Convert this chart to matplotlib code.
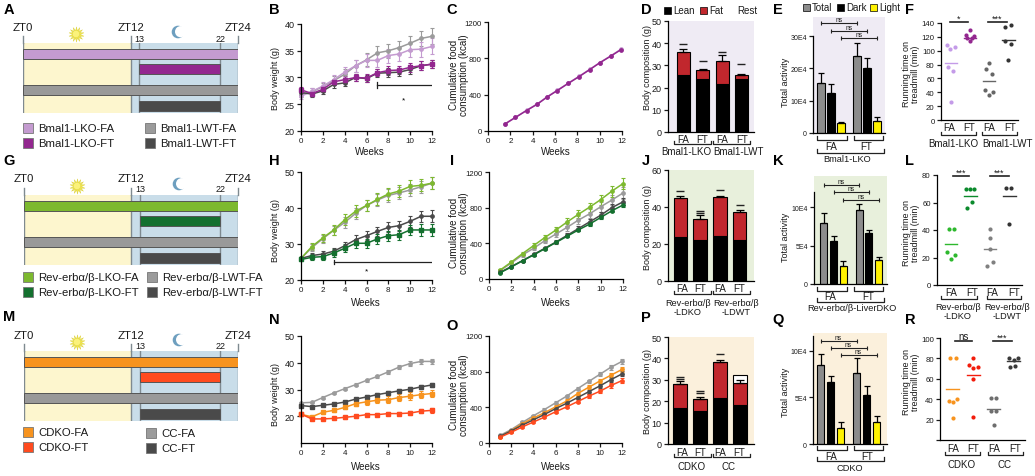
"""Three-row figure: feeding schedules, body weight, food intake, composition, activity, treadmill."""
import numpy as np
import matplotlib
matplotlib.use('Agg')
import matplotlib.pyplot as plt
from matplotlib.patches import Circle, Rectangle

plt.rcParams['font.family'] = ['Liberation Sans', 'DejaVu Sans']
plt.rcParams['axes.linewidth'] = 0.9
plt.rcParams['xtick.major.width'] = 0.9
plt.rcParams['ytick.major.width'] = 0.9

W, H = 1035, 477

# feeding schedule, ZT hours
feed_start = [0, 13, 0, 13]
feed_end = [24, 22, 24, 22]

# body weight, weeks 0-12
weeks = list(range(13))
b_lko_fa = [26.5, 27.4, 28.4, 29.6, 31.0, 32.2, 33.2, 33.2, 34.1, 34.4, 35.2, 35.3, 35.8]
b_lwt_fa = [26.9, 27.3, 28.3, 29.4, 30.6, 32.2, 33.3, 34.6, 35.0, 35.6, 36.4, 37.3, 37.7]
b_lko_ft = [27.7, 27.0, 27.8, 29.2, 29.6, 30.0, 29.9, 30.9, 31.3, 31.4, 31.9, 32.2, 32.5]
b_lwt_ft = [27.2, 26.9, 27.5, 28.7, 29.0, 30.0, 29.8, 30.8, 30.9, 31.0, 31.5, 32.2, 32.5]
b_err_fa = [0.6, 0.7, 0.7, 0.8, 1.0, 1.1, 1.2, 1.3, 1.3, 1.3, 1.4, 1.4, 1.5]
b_err_ft = [0.5, 0.5, 0.5, 0.6, 0.6, 0.6, 0.7, 0.7, 0.8, 0.8, 0.8, 0.8, 0.8]

h_lko_fa = [26.0, 29.3, 31.7, 33.9, 36.7, 39.1, 40.7, 42.4, 43.9, 44.7, 46.0, 46.3, 46.9]
h_lwt_fa = [26.0, 29.0, 31.5, 33.8, 36.0, 38.5, 40.7, 42.2, 43.5, 44.2, 45.0, 45.9, 46.9]
h_lwt_ft = [26.0, 26.8, 27.2, 28.0, 29.5, 31.2, 32.3, 33.5, 34.6, 35.1, 36.3, 37.7, 37.7]
h_lko_ft = [25.7, 26.3, 26.5, 27.5, 28.8, 30.2, 30.2, 31.4, 32.3, 32.6, 33.9, 33.9, 33.9]
h_err_fa = [0.5, 1.0, 1.1, 1.3, 1.5, 1.6, 1.6, 1.7, 1.7, 1.7, 1.7, 1.7, 1.6]
h_err_ft = [0.5, 0.8, 0.9, 1.0, 1.1, 1.2, 1.3, 1.3, 1.4, 1.4, 1.5, 1.6, 1.7]

n_cc_fa = [25.0, 25.2, 27.0, 28.7, 30.3, 31.8, 33.4, 34.9, 36.6, 38.4, 39.7, 40.5, 40.5]
n_cc_ft = [24.0, 23.6, 24.1, 24.6, 25.3, 26.4, 27.2, 28.1, 28.8, 29.5, 30.1, 31.0, 31.7]
n_ko_fa = [20.7, 19.8, 21.5, 22.2, 23.3, 24.7, 25.4, 26.0, 26.2, 27.0, 27.5, 28.1, 28.5]
n_ko_ft = [20.8, 19.0, 19.0, 19.2, 19.6, 20.0, 20.6, 20.6, 21.0, 21.0, 21.2, 21.9, 22.2]
n_err_gray = [0.3, 0.3, 0.4, 0.4, 0.5, 0.5, 0.6, 0.6, 0.7, 0.7, 0.8, 0.8, 0.9]
n_err_color = [0.4, 0.4, 0.5, 0.6, 0.7, 0.9, 1.1, 1.2, 1.3, 1.3, 1.4, 1.4, 1.4]

# cumulative food
c_weeks = [1.56, 2.46, 3.45, 4.41, 5.31, 6.2, 7.2, 8.17, 9.1, 10.0, 11.0, 11.9]
c_lko_fa = [82, 150, 228, 298, 378, 448, 528, 603, 678, 752, 828, 900]
c_lko_ft = [80, 150, 225, 295, 375, 445, 525, 600, 675, 750, 825, 895]
i_weeks = list(range(1, 13))
i_lko_fa = [100, 190, 285, 375, 465, 550, 640, 725, 805, 890, 985, 1070]
i_lwt_fa = [95, 180, 270, 345, 430, 505, 580, 660, 730, 810, 885, 965]
i_lwt_ft = [75, 140, 205, 275, 345, 415, 490, 565, 640, 715, 800, 865]
i_lko_ft = [70, 135, 205, 270, 340, 410, 480, 550, 615, 690, 765, 830]
i_err = [10, 15, 20, 25, 30, 35, 40, 45, 50, 55, 60, 65]
i_err_wt = [6, 9, 12, 15, 18, 21, 24, 27, 30, 33, 36, 39]
i_err_ko = [3, 5, 6, 8, 9, 11, 12, 14, 15, 17, 18, 20]
o_cc_fa = [85, 150, 230, 305, 375, 450, 525, 610, 690, 770, 850, 915]
o_ko_fa = [70, 140, 215, 280, 340, 405, 470, 555, 625, 695, 760, 825]
o_cc_ft = [75, 135, 200, 260, 320, 385, 445, 510, 575, 640, 710, 775]
o_ko_ft = [65, 120, 180, 235, 290, 350, 405, 465, 525, 580, 645, 700]
o_err = [8, 10, 12, 14, 15, 16, 18, 20, 22, 24, 26, 28]

# body composition: lean, fat, rest stacked, upper error end, dash marks
d_lean = [25.5, 24.0, 21.5, 23.8]
d_fat = [10.5, 4.0, 10.5, 2.0]
d_err = [1.5, 0.5, 2.6, 0.4]
d_marks = [[39.6], [32.0], [36.0], [30.6]]
j_lean = [24.0, 21.9, 24.2, 22.4]
j_fat = [20.7, 11.7, 21.0, 14.8]
j_err = [1.1, 2.3, 0.8, 1.2]
j_marks = [[48.8], [37.0, 38.0], [49.0], [41.3]]
p_lean = [16.8, 15.5, 21.7, 18.3]
p_fat = [11.2, 5.5, 16.7, 10.4]
p_rest = [0, 0, 0, 3.6]
p_err = [1.5, 1.0, 1.0, 1.1]
p_marks = [[30.6, 31.4], [24.0, 24.6], [42.0], []]

# total activity, groups FA then FT, each Total, Dark, Light
e_vals = [15.5, 12.5, 3.0, 23.8, 20.0, 3.8]
e_errs = [3.0, 2.7, 0.4, 4.2, 3.2, 1.0]
k_vals = [7.9, 5.65, 2.3, 9.7, 6.65, 3.1]
k_errs = [1.4, 0.65, 0.7, 0.8, 0.35, 0.45]
q_vals = [8.5, 6.7, 1.7, 7.6, 5.2, 2.4]
q_errs = [1.1, 0.6, 0.7, 1.6, 1.0, 0.6]

# treadmill running time, per group: values, sideways offsets of dots, mean
f_vals = [[108.7, 102, 105, 76, 71, 26],
          [130, 122, 121, 118, 118, 114],
          [82, 74, 67, 43, 40, 36],
          [134, 137, 114, 110, 86]]
f_jitter = [[-0.2, -0.03, 0.2, -0.15, 0.13, 0.0],
            [0.0, -0.22, 0.2, -0.17, 0.09, 0.0],
            [0.0, -0.17, 0.12, -0.22, 0.2, 0.0],
            [-0.17, 0.15, -0.17, 0.15, 0.0]]
f_means = [82, 118, 57, 116]
l_vals = [[41, 41, 24, 22, 19],
          [70, 70, 70, 60.6, 56],
          [41, 34, 26, 17, 14],
          [70.5, 70.5, 44.7]]
l_jitter = [[-0.12, 0.14, -0.2, 0.19, 0.0],
            [-0.24, -0.03, 0.19, 0.1, -0.17],
            [0.0, 0.0, 0.0, 0.14, -0.14],
            [-0.15, 0.1, 0.0]]
l_means = [30, 65, 26.5, 65]
r_vals = [[80, 80, 38.6, 37.6, 40, 22],
          [80, 74, 71, 72, 60, 23],
          [41, 41.5, 28, 28, 15],
          [80, 80, 78, 72, 73]]
r_jitter = [[-0.13, 0.15, -0.2, -0.02, 0.2, 0.0],
            [0.0, -0.21, 0.0, 0.21, 0.0, 0.0],
            [-0.13, 0.13, -0.15, 0.13, 0.0],
            [-0.23, 0.2, 0.0, -0.2, 0.05]]
r_means = [49.7, 63.4, 30.7, 77]

GRAY, DARK = '#9B9B9B', '#4A4A4A'
LPURPLE, PURPLE = '#C49BD0', '#93278F'
LGREEN, GREEN = '#7DB92F', '#14702F'
ORANGE, REDOR = '#F7931E', '#FF4B1F'
FAT = '#C1272D'
YELLOW = '#FFF200'
TEXT = '#1A1A1A'

fig = plt.figure(figsize=(W / 100, H / 100), dpi=100)


def axes_px(left, top, right, bottom):
    return fig.add_axes([left / W, 1 - bottom / H, (right - left) / W, (bottom - top) / H])


# overlay in pixel coordinates for labels and brackets
ov = fig.add_axes([0, 0, 1, 1], zorder=10)
ov.set_xlim(0, W)
ov.set_ylim(H, 0)
ov.axis('off')


def put(x, y, s, size=7, **kw):
    kw.setdefault('ha', 'center')
    kw.setdefault('va', 'center')
    kw.setdefault('color', TEXT)
    ov.text(x, y, s, fontsize=size, **kw)


def bracket(x0, x1, y, tick=4):
    ov.plot([x0, x0, x1, x1], [y - tick, y, y, y - tick], color='#222222', lw=0.9)


def schedule(left, right, top, labels_y, col_fa, col_ft, legend):
    ax = axes_px(left, top, right, top + 70)
    ax.set_xlim(0, 24)
    ax.set_ylim(70, 0)
    ax.axis('off')
    ax.axvspan(0, 12, color='#FDF6CE', lw=0)
    ax.axvspan(12, 24, color='#C9DDE9', lw=0)
    for hour in (0, 12, 13, 22, 24):
        ax.axvline(hour, color='#7F8A90', lw=1.0, zorder=1)
    tracks = [(11, col_fa), (26, col_ft), (47, '#999999'), (62.5, DARK)]
    for (yc, col), a, b in zip(tracks, feed_start, feed_end):
        ax.barh(yc, b - a, left=a, height=10, color=col, edgecolor='#555555', lw=0.7, zorder=3)
    per_hour = (right - left) / 24
    for hour, s in ((0, 'ZT0'), (12, 'ZT12'), (24, 'ZT24')):
        put(left + hour * per_hour, labels_y, s, size=8.2)
    for hour, s in ((13, '13'), (22, '22')):
        put(left + hour * per_hour, labels_y + 11, s, size=6.5)
    # stubs of ZT0 / ZT12 / ZT24 reach above the shaded area
    for hour in (0, 12, 24):
        x = left + hour * per_hour
        ov.plot([x, x], [top - 7, top], color='#7F8A90', lw=1.0)
    # sun and moon
    sx, sy = left + 53, top - 9
    ov.plot([sx], [sy], marker=(14, 1, 0), ms=11, color='#F2E64D', mec='#D9CF3A', mew=0.3)
    ov.add_patch(Circle((sx, sy), 3.6, fc='#FBF27A', ec='#E3D94A', lw=0.4, zorder=4))
    mx, my = left + 155, top - 11
    ov.add_patch(Circle((mx, my), 6.3, fc='#6E9FBF', ec='none', zorder=4))
    ov.add_patch(Circle((mx + 2.6, my - 0.3), 5.6, fc='white', ec='none', zorder=5))
    # legend squares and names
    for (x, y, col, s) in legend:
        ov.add_patch(Rectangle((x, y - 5), 10, 10, fc=col, ec='#777777', lw=0.6, zorder=4))
        put(x + 15, y, s, size=8.2, ha='left')


schedule(23, 238, 44, 28, LPURPLE, PURPLE,
         [(23, 129, LPURPLE, 'Bmal1-LKO-FA'), (23, 144, PURPLE, 'Bmal1-LKO-FT'),
          (145, 129, GRAY, 'Bmal1-LWT-FA'), (145, 144, DARK, 'Bmal1-LWT-FT')])
schedule(24, 238, 196, 179, LGREEN, GREEN,
         [(23, 278, LGREEN, 'Rev-erbα/β-LKO-FA'), (23, 293, GREEN, 'Rev-erbα/β-LKO-FT'),
          (147, 278, GRAY, 'Rev-erbα/β-LWT-FA'), (147, 293, DARK, 'Rev-erbα/β-LWT-FT')])
schedule(24, 238, 352, 336, ORANGE, REDOR,
         [(23, 433, ORANGE, 'CDKO-FA'), (23, 448, REDOR, 'CDKO-FT'),
          (146, 434, GRAY, 'CC-FA'), (146, 449, DARK, 'CC-FT')])


def style(ax, ysize, xsize=5.8):
    ax.spines['top'].set_visible(False)
    ax.spines['right'].set_visible(False)
    ax.tick_params(length=3, pad=1.5, colors=TEXT)
    ax.tick_params(axis='y', labelsize=ysize)
    ax.tick_params(axis='x', labelsize=xsize)
    ax.patch.set_alpha(0)


def line_axes(rect, ylim, yticks, series, ysize=6.5):
    ax = axes_px(*rect)
    ax.set_xlim(0, 12)
    ax.set_ylim(*ylim)
    ax.set_xticks(range(0, 13, 2))
    ax.set_yticks(yticks)
    style(ax, ysize)
    for x, y, err, col, marker in series:
        ax.errorbar(x, y, yerr=err, color=col, lw=1.1, marker=marker, ms=2.4, capsize=1.6,
                    elinewidth=0.8, capthick=0.8, clip_on=False)
    return ax


ax = line_axes((301, 25, 432, 132), (20, 40), [20, 25, 30, 35, 40],
               [(weeks, b_lwt_fa, b_err_fa, GRAY, 'o'), (weeks, b_lko_fa, b_err_fa, LPURPLE, 'o'),
                (weeks, b_lwt_ft, b_err_ft, DARK, 'o'), (weeks, b_lko_ft, b_err_ft, PURPLE, 's')])
ax.plot([7, 12], [28.6, 28.6], color='#222222', lw=0.9)
ax.plot([7, 7], [28.1, 29.1], color='#222222', lw=0.9)
ax.text(9.4, 25.9, '*', fontsize=6, ha='center', va='center')

ax = line_axes((488, 23, 622, 132), (0, 1200), [0, 400, 800, 1200],
               [(c_weeks, c_lko_fa, None, LPURPLE, 'o'), (c_weeks, c_lko_ft, None, PURPLE, 'o')], 5.6)

ax = line_axes((301, 173, 432, 281), (20, 50), [20, 30, 40, 50],
               [(weeks, h_lwt_fa, h_err_fa, GRAY, 'o'), (weeks, h_lko_fa, h_err_fa, LGREEN, 'o'),
                (weeks, h_lwt_ft, h_err_ft, DARK, 'o'), (weeks, h_lko_ft, h_err_ft, GREEN, 's')])
ax.plot([3, 12], [25, 25], color='#222222', lw=0.9)
ax.plot([3, 3], [24.4, 25.6], color='#222222', lw=0.9)
ax.text(6, 22.6, '*', fontsize=6, ha='center', va='center')

line_axes((489, 173, 623, 280), (0, 1200), [0, 400, 800, 1200],
          [(i_weeks, i_lwt_fa, i_err, GRAY, 'o'), (i_weeks, i_lko_fa, i_err, LGREEN, 'o'),
           (i_weeks, i_lwt_ft, i_err_wt, DARK, 'o'), (i_weeks, i_lko_ft, i_err_ko, GREEN, 'o')], 5.6)

line_axes((301, 337, 432, 444), (10, 50), [20, 30, 40, 50],
          [(weeks, n_cc_fa, n_err_gray, GRAY, 'o'), (weeks, n_cc_ft, n_err_gray, DARK, 's'),
           (weeks, n_ko_fa, n_err_color, ORANGE, 's'), (weeks, n_ko_ft, n_err_gray, REDOR, 's')])

line_axes((489, 337, 622, 444), (0, 1200), [0, 400, 800, 1200],
          [(i_weeks, o_cc_fa, o_err, GRAY, 'o'), (i_weeks, o_ko_fa, o_err, ORANGE, 'o'),
           (i_weeks, o_cc_ft, o_err, DARK, 'o'), (i_weeks, o_ko_ft, o_err, REDOR, 'o')], 5.6)


def composition(rect, xlim, ymax, yticks, bg, lean, fat, err, marks, rest=None, width=0.68):
    ax = axes_px(*rect)
    ax.set_xlim(*xlim)
    ax.set_ylim(0, ymax)
    ax.set_facecolor(bg)
    ax.set_xticks([])
    ax.set_yticks(yticks)
    style(ax, 6.5)
    ax.patch.set_alpha(1)
    x = np.arange(len(lean))
    lean = np.array(lean)
    fat = np.array(fat)
    ax.bar(x, lean, width, color='black', edgecolor='black', lw=0.8)
    ax.bar(x, fat, width, bottom=lean, color=FAT, edgecolor='black', lw=0.8)
    tops = lean + fat
    if rest is not None:
        ax.bar(x, rest, width, bottom=tops, color='white', edgecolor='black', lw=0.8)
    ax.errorbar(x, tops, yerr=[np.zeros(len(x)), err], fmt='none', ecolor='black', elinewidth=0.9,
                capsize=2.6, capthick=0.9)
    for i, ys in enumerate(marks):
        ax.plot([i] * len(ys), ys, ls='none', marker='_', ms=6, mew=1.0, color='#222222')


composition((668, 22, 754, 133), (-0.80, 3.65), 50, [0, 10, 20, 30, 40, 50], '#EFEBF4',
            d_lean, d_fat, d_err, d_marks)
composition((668, 171, 754, 282), (-0.63, 3.73), 60, [0, 20, 40, 60], '#E8F0DC',
            j_lean, j_fat, j_err, j_marks)
composition((668, 338, 754, 445), (-0.60, 3.70), 50, [0, 10, 20, 30, 40, 50], '#FBF0DC',
            p_lean, p_fat, p_err, p_marks, rest=p_rest)


def activity(rect, xlim, ymax, spine_top, yticks, ylabels, bg, vals, errs, bracket_y):
    ax = axes_px(*rect)
    ax.set_xlim(*xlim)
    ax.set_ylim(0, ymax)
    ax.set_facecolor(bg)
    ax.set_xticks([])
    ax.set_yticks(yticks)
    ax.set_yticklabels(ylabels)
    style(ax, 5)
    ax.patch.set_alpha(1)
    ax.spines['left'].set_bounds(0, spine_top)
    x = np.array([0, 1, 2, 3.6, 4.6, 5.6])
    cols = ['#8C8C8C', 'black', YELLOW] * 2
    ax.bar(x, vals, 0.72, color=cols, edgecolor='black', lw=0.8)
    ax.errorbar(x, vals, yerr=[np.zeros(6), errs], fmt='none', ecolor='black', elinewidth=0.9,
                capsize=2.0, capthick=0.9)
    for (a, b), y in zip(((0, 3), (1, 4), (2, 5)), bracket_y):
        ax.plot([x[a], x[b]], [y, y], color='#222222', lw=0.8, marker='|', ms=3.5, mew=0.8)
        ax.text((x[a] + x[b]) / 2, y, 'ns', fontsize=4.8, ha='center', va='bottom', color=TEXT)


activity((813, 18, 885, 134), (-0.8, 6.4), 35.9, 30, [0, 10, 20, 30], ['0', '10E4', '20E4', '30E4'],
         '#EFEBF4', e_vals, e_errs, (34, 31.5, 29.4))
activity((814, 177, 887, 285), (-1.0, 6.45), 14.1, 12, [0, 5, 10], ['0', '5E4', '10E4'],
         '#E8F0DC', k_vals, k_errs, (12.9, 12, 11))
activity((813, 334, 887, 445), (-0.75, 6.65), 11.9, 11.6, [0, 5, 10], ['0', '5E4', '10E4'],
         '#FBF0DC', q_vals, q_errs, (11, 10.25, 9.5))


def running(rect, xlim, ymax, yticks, ylabels, vals, jitter, means, cols):
    ax = axes_px(*rect)
    ax.set_xlim(*xlim)
    ax.set_ylim(0, ymax)
    ax.set_xticks([])
    ax.set_yticks(yticks)
    ax.set_yticklabels(ylabels)
    style(ax, 5.6)
    for i in range(4):
        ax.scatter(np.array(jitter[i]) + i, vals[i], s=9, color=cols[i], lw=0, clip_on=False, zorder=3)
        ax.plot([i - 0.32, i + 0.32], [means[i], means[i]], color=cols[i], lw=1.0, zorder=2)
    return ax


running((941, 24, 1018, 121), (-0.52, 3.5), 140, range(0, 141, 20), [str(v) for v in range(0, 141, 20)],
        f_vals, f_jitter, f_means, ['#C49BE8', PURPLE, '#666666', '#333333'])
running((937, 176, 1022, 286), (-0.72, 3.65), 80, [0, 20, 40, 60, 80], ['0', '20', '40', '60', '80'],
        l_vals, l_jitter, l_means, ['#2DB82D', '#0B8A2C', '#808080', '#333333'])
running((940, 339, 1025, 441), (-0.64, 3.55), 100, [0, 20, 40, 60, 80, 100], ['', '20', '40', '60', '80', '100'],
        r_vals, r_jitter, r_means, [ORANGE, '#F21C0C', '#6E6E6E', '#3A3A3A'])

# panel letters
for x, y, s in ((9, 10, 'A'), (274, 10, 'B'), (452, 10, 'C'), (646, 10, 'D'), (778, 10, 'E'), (910, 10, 'F'),
                (9, 161, 'G'), (274, 161, 'H'), (452, 161, 'I'), (646, 161, 'J'), (778, 161, 'K'), (910, 161, 'L'),
                (9, 317, 'M'), (274, 320, 'N'), (452, 326, 'O'), (646, 318, 'P'), (778, 320, 'Q'), (910, 320, 'R')):
    put(x, y, s, size=10.5, fontweight='bold', color='black')

# axis titles
for x, y in ((275, 78), (275, 230), (275, 395)):
    put(x, y, 'Body weight (g)', rotation=90, size=6.5)
for x, y in ((459, 75), (459, 233), (459, 395)):
    put(x, y, 'Cumulative food\nconsumption (kcal)', rotation=90, size=7, linespacing=1.05)
for x, y in ((647, 68), (647, 228), (647, 392)):
    put(x, y, 'Body composition (g)', rotation=90, size=6.5)
for x, y in ((785, 82), (785, 237), (785, 392)):
    put(x, y, 'Total activity', rotation=90, size=6.5)
for x, y in ((911, 74), (911, 233), (911, 382)):
    put(x, y, 'Running time on\ntreadmill (min)', rotation=90, size=6.5, linespacing=1.05)
for x, y in ((370, 152), (556, 152), (366, 303), (556, 303), (366, 467), (556, 467)):
    put(x, y, 'Weeks', size=7)

# composition legend
for x, y, col, s in ((664, 11, 'black', 'Lean'), (700, 11, FAT, 'Fat')):
    ov.add_patch(Rectangle((x - 0.5, y - 3.5), 7, 7, fc=col, ec='black', lw=0.5))
    put(x + 9, y, s, ha='left')
put(737, 11, 'Rest', ha='left')
for x, col, s in ((803, '#8C8C8C', 'Total'), (837, 'black', 'Dark'), (870, YELLOW, 'Light')):
    ov.add_patch(Rectangle((x, 4.5), 7, 7, fc=col, ec='black', lw=0.5))
    put(x + 9, 8, s, ha='left')

# group labels under bar panels
for y, xs in ((140, (683, 702, 722, 742)), (289, (682, 700, 720, 739)), (453, (682, 700, 720, 739))):
    for x, s in zip(xs, ('FA', 'FT', 'FA', 'FT')):
        put(x, y, s)
for y in (145, 295, 458):
    bracket(674, 711, y, 3)
    bracket(713, 750, y, 3)
put(686, 152, 'Bmal1-LKO')
put(738, 152, 'Bmal1-LWT')
put(688, 308, 'Rev-erbα/β\n-LDKO', size=6.6, linespacing=1.05)
put(736, 308, 'Rev-erbα/β\n-LDWT', size=6.6, linespacing=1.05)
put(692, 467, 'CDKO')
put(729, 467, 'CC')

# activity groups
for y_t, y_b1, y_b2, y_l, s, x_s, x_fa, x_ft in ((147, 141, 154, 160, 'Bmal1-LKO', 847, 831, 866),
                                                 (297, 292, 303, 309, 'Rev-erbα/β-LiverDKO', 852, 830, 868),
                                                 (457, 451, 462, 469, 'CDKO', 850, 831, 867)):
    put(x_fa, y_t, 'FA')
    put(x_ft, y_t, 'FT')
    bracket(817, 847, y_b1, 4)
    bracket(854, 883, y_b1, 4)
    bracket(817, 884, y_b2, 4)
    put(x_s, y_l, s, size=6.7)

# running groups
for y, xs in ((128, (949, 969, 989, 1010)), (293, (951, 972, 992, 1014)), (449, (953, 973, 994, 1015))):
    for x, s in zip(xs, ('FA', 'FT', 'FA', 'FT')):
        put(x, y, s)
bracket(941, 976, 136, 3)
bracket(982, 1017, 136, 3)
bracket(941, 977, 300, 3)
bracket(987, 1021, 300, 3)
bracket(945, 980, 456, 3)
bracket(988, 1023, 456, 3)
put(953, 144, 'Bmal1-LKO')
put(1007, 144, 'Bmal1-LWT')
put(958, 312, 'Rev-erbα/β\n-LDKO', size=6.6, linespacing=1.05)
put(1007, 312, 'Rev-erbα/β\n-LDWT', size=6.6, linespacing=1.05)
put(962, 465, 'CDKO')
put(1005, 465, 'CC')

# significance bars over running panels
for x0, x1, y, s in ((950, 968, 23, '*'), (988, 1007, 23, '***'), (953, 969, 177, '***'),
                     (990, 1009, 177, '***'), (955, 972, 342, 'ns'), (993, 1012, 342, '***')):
    ov.plot([x0, x1], [y, y], color='#222222', lw=1.2)
    put((x0 + x1) / 2, y - (4 if s != 'ns' else 5), s, size=6.4 if s != 'ns' else 7)

fig.savefig('out.png', dpi=100)
